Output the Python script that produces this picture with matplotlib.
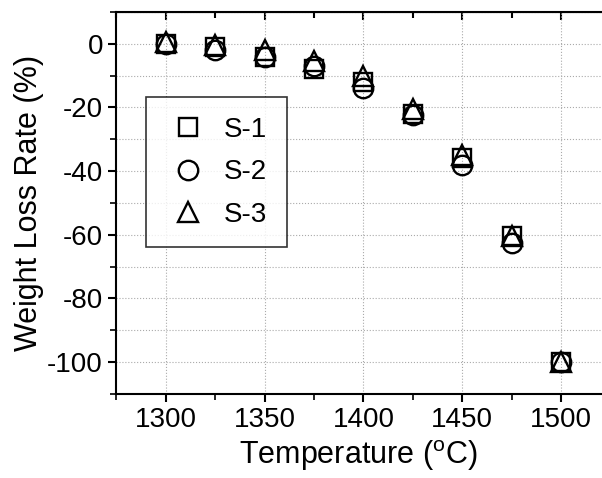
import numpy as np
import matplotlib
matplotlib.use('Agg')
import matplotlib.pyplot as plt
from matplotlib.ticker import MultipleLocator

temp = [1300, 1325, 1350, 1375, 1400, 1425, 1450, 1475, 1500]
s1 = [0, -1, -4, -8, -12, -22, -36, -60.5, -100]
s2 = [0, -2, -4, -7, -14, -22.5, -38, -62.5, -100]
s3 = [0.5, -0.5, -2, -5.5, -10, -20.5, -35, -60.5, -100]

plt.rcParams.update({'font.family': 'Liberation Sans',
                     'axes.unicode_minus': False,
                     'mathtext.fontset': 'custom',
                     'mathtext.rm': 'Liberation Sans'})

fig = plt.figure(figsize=(6.02, 4.78), dpi=100)
ax = fig.add_axes([0.193, 0.176, 0.805, 0.799])

mk = dict(ls='none', mfc='none', mec='k', mew=1.7)
ax.plot(temp, s1, marker='s', ms=13, label='S-1', **mk)
ax.plot(temp, s2, marker='o', ms=14, label='S-2', **mk)
ax.plot(temp, s3, marker='^', ms=15, label='S-3', **mk)

ax.set_xlim(1275, 1520)
ax.set_ylim(-110, 10)
ax.xaxis.set_major_locator(MultipleLocator(50))
ax.xaxis.set_minor_locator(MultipleLocator(25))
ax.yaxis.set_major_locator(MultipleLocator(20))
ax.yaxis.set_minor_locator(MultipleLocator(10))

ax.grid(True, which='major', axis='x', color='#aaaaaa', ls=':', lw=0.8)
ax.grid(True, which='both', axis='y', color='#aaaaaa', ls=':', lw=0.8)

for s in ax.spines.values():
    s.set_linewidth(1.5)
ax.spines['right'].set_visible(False)
ax.tick_params(axis='both', which='major', labelsize=20, width=1.5, length=6)
ax.tick_params(axis='both', which='minor', width=1.2, length=4)
ax.tick_params(axis='x', which='both', direction='out', top=False)

# top ticks point inward
secx = ax.secondary_xaxis('top')
secx.xaxis.set_major_locator(MultipleLocator(50))
secx.xaxis.set_minor_locator(MultipleLocator(25))
secx.tick_params(which='both', direction='in', labeltop=False, width=1.5)
secx.tick_params(which='major', length=6)
secx.tick_params(which='minor', length=4)

ax.set_xlabel(r'Temperature ($^{\rm o}$C)', fontsize=22, labelpad=4)
ax.set_ylabel('Weight Loss Rate (%)', fontsize=22, labelpad=2)

leg = ax.legend(loc='upper left', bbox_to_anchor=(0.062, 0.777), fontsize=20,
                frameon=True, fancybox=False, edgecolor='k',
                handletextpad=0.5, borderpad=0.7, labelspacing=0.6,
                handlelength=1.6, borderaxespad=0)
leg.get_frame().set_linewidth(1.2)

fig.savefig('out.png', dpi=100)
